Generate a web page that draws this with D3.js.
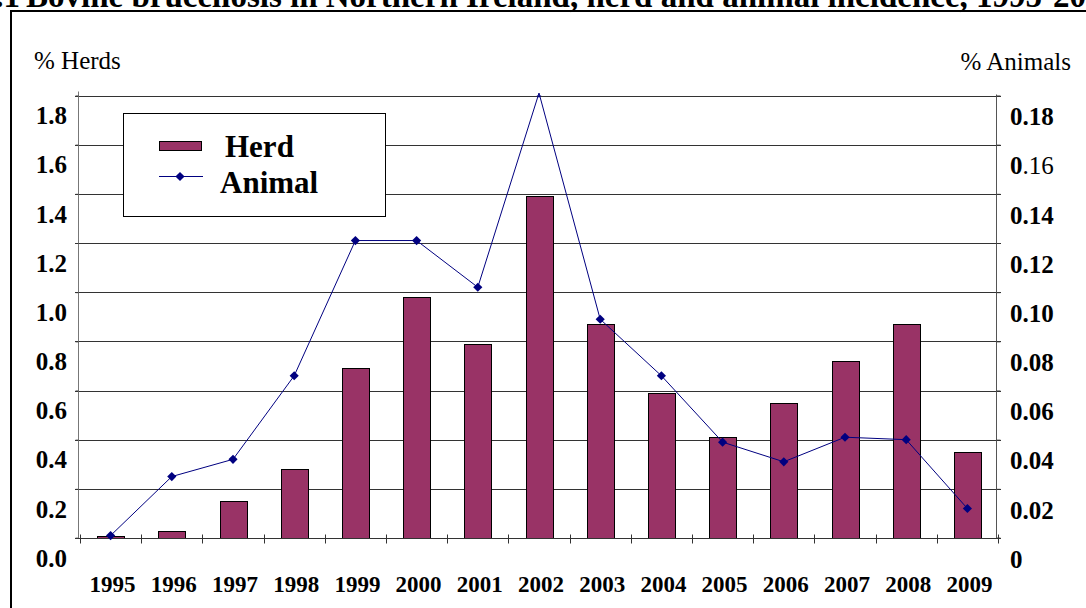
<!DOCTYPE html>
<html>
<head>
<meta charset="utf-8">
<script src="https://cdn.jsdelivr.net/npm/d3@7"></script>
<style>
  html, body { margin: 0; padding: 0; background: #fff; }
  svg { display: block; }
  text { font-family: "Liberation Serif", "Times New Roman", serif; fill: #000; }
</style>
</head>
<body>
<svg id="chart" width="1086" height="608"></svg>
<script>
// ---- data ----
const years = ["1995","1996","1997","1998","1999","2000","2001","2002","2003","2004","2005","2006","2007","2008","2009"];
const herdPct = [0.01, 0.03, 0.15, 0.28, 0.69, 0.98, 0.79, 1.39, 0.87, 0.59, 0.41, 0.55, 0.72, 0.87, 0.35];
const animalPct = [0.001, 0.025, 0.032, 0.066, 0.121, 0.121, 0.102, 0.181, 0.089, 0.066, 0.039, 0.031, 0.041, 0.040, 0.012];
const leftTicks = [0, 0.2, 0.4, 0.6, 0.8, 1.0, 1.2, 1.4, 1.6, 1.8];
const leftTickLabels = ["0.0","0.2","0.4","0.6","0.8","1.0","1.2","1.4","1.6","1.8"];
const rightTicks = [0, 0.02, 0.04, 0.06, 0.08, 0.10, 0.12, 0.14, 0.16, 0.18];
const rightTickLabels = ["0","0.02","0.04","0.06","0.08","0.10","0.12","0.14","0.16","0.18"];
const seriesNames = ["Herd", "Animal"];
const titlePrefix = "Figure 2.7.1";
const titleText = "Bovine brucellosis in Northern Ireland, herd and animal incidence, 1995-2009";

// ---- layout ----
const svg = d3.select("#chart");
const plot = { left: 78, right: 997, top: 95.5, bottom: 538 };
const barColor = "#993366";
const lineColor = "#000080";

const x = d3.scaleBand().domain(years).range([plot.left + 2, plot.right + 1]).paddingInner(0.56).paddingOuter(0.28);
const xb = d3.scaleBand().domain(years).range([plot.left + 2, plot.right + 1]);
const yL = d3.scaleLinear().domain([0, 1.8]).range([plot.bottom, plot.top]);
const yR = d3.scaleLinear().domain([0, 0.18]).range([plot.bottom, plot.top]);

// title (cut off at the top of the page, as in the reference)
svg.append("text")
  .attr("x", 26).attr("y", 7)
  .attr("font-size", 33).attr("font-weight", "bold")
  .attr("text-anchor", "start")
  .text(titleText);
svg.append("text")
  .attr("x", 20).attr("y", 7)
  .attr("font-size", 33).attr("font-weight", "bold")
  .attr("text-anchor", "end")
  .text(titlePrefix);

// outer frame
svg.append("rect")
  .attr("x", 11).attr("y", 11).attr("width", 1200).attr("height", 800)
  .attr("fill", "none").attr("stroke", "#000").attr("stroke-width", 2);

// gridlines
svg.append("g").selectAll("line").data(leftTicks.slice(1)).join("line")
  .attr("x1", plot.left - 3).attr("x2", plot.right + 4)
  .attr("y1", d => Math.round(yL(d)) + 0.5).attr("y2", d => Math.round(yL(d)) + 0.5)
  .attr("stroke", "#333").attr("stroke-width", 1);

// left axis
const gL = svg.append("g").attr("transform", `translate(${plot.left + 0.5},0)`)
  .call(d3.axisLeft(yL).tickValues(leftTicks).tickSize(3).tickFormat(""));
gL.select(".domain").attr("stroke", "#777").attr("d", `M-3,${plot.bottom}H0V${plot.top - 4}`);
gL.selectAll(".tick line").attr("stroke", "#333");
svg.append("g").selectAll("text").data(leftTicks).join("text")
  .attr("x", 67).attr("y", d => yL(d) + 20)
  .attr("dy", "0.35em")
  .attr("text-anchor", "end")
  .attr("font-size", 25).attr("font-weight", "bold")
  .text((d, i) => leftTickLabels[i]);

// right axis
const gR = svg.append("g").attr("transform", `translate(${plot.right - 0.5},0)`)
  .call(d3.axisRight(yR).tickValues(rightTicks).tickSize(4).tickFormat(""));
gR.select(".domain").attr("stroke", "#555").attr("d", `M4,${plot.bottom}H0V${plot.top - 1}`);
gR.selectAll(".tick line").attr("stroke", "#333");
const rlab = svg.append("g").selectAll("text").data(rightTicks).join("text")
  .attr("x", 1010).attr("y", d => yR(d) + 21)
  .attr("dy", "0.35em")
  .attr("text-anchor", "start")
  .attr("font-size", 25);
rlab.each(function(d, i) {
  const t = d3.select(this);
  const lab = rightTickLabels[i];
  if (lab === "0.16") {
    t.append("tspan").attr("font-weight", "bold").text(lab.slice(0, 1));
    t.append("tspan").attr("font-weight", "normal").text(lab.slice(1));
  } else {
    t.append("tspan").attr("font-weight", "bold").text(lab);
  }
});

// bars
svg.append("g").selectAll("rect").data(years).join("rect")
  .attr("x", d => Math.round(x(d)) + 0.5)
  .attr("width", Math.round(x.bandwidth()))
  .attr("y", (d, i) => Math.round(yL(herdPct[i])) + 0.5)
  .attr("height", (d, i) => Math.max(0, Math.round(yL(0)) - Math.round(yL(herdPct[i]))))
  .attr("fill", barColor).attr("stroke", "#000").attr("stroke-width", 1);

// bottom axis
const gB = svg.append("g").attr("transform", `translate(0,${Math.round(plot.bottom) + 0.5})`)
  .call(d3.axisBottom(xb).tickSize(0).tickFormat(""));
gB.select(".domain").attr("stroke", "#333").attr("d", `M${plot.left - 3},0H${plot.right + 4}`);
gB.selectAll(".tick").remove();
const bounds = years.map(d => xb(d)).concat([xb(years[years.length - 1]) + xb.bandwidth()]);
gB.selectAll("line.bt").data(bounds).join("line").attr("class", "bt")
  .attr("x1", d => Math.round(d) + 0.5).attr("x2", d => Math.round(d) + 0.5)
  .attr("y1", -4).attr("y2", 5).attr("stroke", "#333");
svg.append("g").selectAll("text").data(years).join("text")
  .attr("x", d => xb(d) + xb.bandwidth() / 2 + 2)
  .attr("y", 592)
  .attr("text-anchor", "middle")
  .attr("font-size", 23).attr("font-weight", "bold")
  .text(d => d);

// animal line
const line = d3.line().x((d, i) => xb(years[i]) + xb.bandwidth() / 2).y(d => yR(d));
svg.append("path").datum(animalPct)
  .attr("d", line).attr("fill", "none").attr("stroke", lineColor).attr("stroke-width", 1);

svg.append("clipPath").attr("id", "plotclip").append("rect")
  .attr("x", plot.left).attr("y", plot.top).attr("width", plot.right - plot.left).attr("height", plot.bottom - plot.top + 10);
const sym = d3.symbol(d3.symbolSquare, 42);
svg.append("g").attr("clip-path", "url(#plotclip)").selectAll("path").data(animalPct).join("path")
  .attr("d", sym)
  .attr("transform", (d, i) => `translate(${xb(years[i]) + xb.bandwidth() / 2},${yR(d)}) rotate(45)`)
  .attr("fill", lineColor);

// axis titles
svg.append("text").attr("x", 34).attr("y", 69).attr("font-size", 25).text("% Herds");
svg.append("text").attr("x", 1071).attr("y", 70).attr("font-size", 25)
  .attr("text-anchor", "end").text("% Animals");

// legend
const lg = svg.append("g");
lg.append("rect").attr("x", 123.5).attr("y", 113.5).attr("width", 262).attr("height", 103)
  .attr("fill", "#fff").attr("stroke", "#000").attr("stroke-width", 1);
lg.append("rect").attr("x", 159.5).attr("y", 141.5).attr("width", 42).attr("height", 9)
  .attr("fill", barColor).attr("stroke", "#000");
lg.append("text").attr("x", 225).attr("y", 157).attr("font-size", 31).attr("font-weight", "bold").text(seriesNames[0]);
lg.append("line").attr("x1", 159).attr("x2", 203).attr("y1", 176.5).attr("y2", 176.5)
  .attr("stroke", lineColor).attr("stroke-width", 1);
lg.append("path").attr("d", sym).attr("transform", "translate(180,176.5) rotate(45)").attr("fill", lineColor);
lg.append("text").attr("x", 220).attr("y", 193).attr("font-size", 31).attr("font-weight", "bold").text(seriesNames[1]);
</script>
</body>
</html>
